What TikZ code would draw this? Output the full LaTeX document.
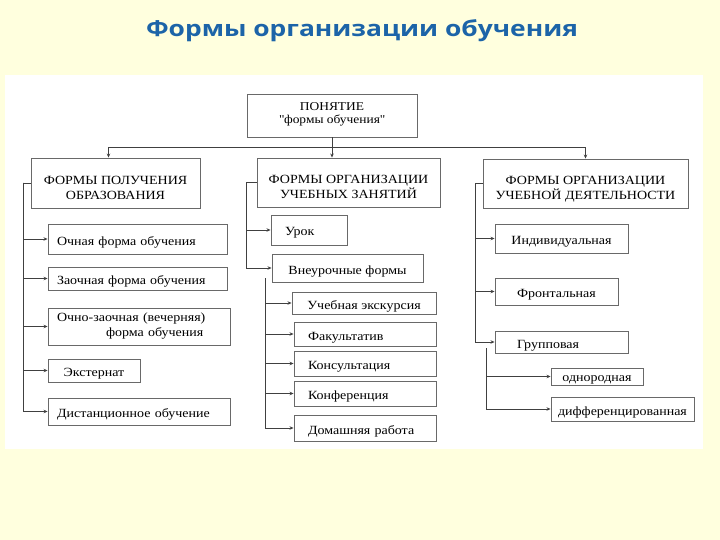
\documentclass[tikz,border=0pt]{standalone}
\usepackage{fontspec}
\setmainfont{Liberation Serif}[FakeStretch=1.12]
\newfontfamily\titlefont{Open Sans}[FakeStretch=1.2]
\usetikzlibrary{positioning, arrows.meta, calc}

\definecolor{pageyellow}{RGB}{255,255,222}
\definecolor{titleblue}{RGB}{28,100,168}
\definecolor{boxline}{RGB}{105,105,105}

\tikzset{%
  box/.style={draw=boxline, fill=white, line width=0.9pt, inner sep=2pt,
    font=\fontsize{12.5}{15}\selectfont, align=center}, % every frame of the chart
  lbox/.style={box, align=left}, % text kept to the left of its frame
  one/.style={text height=12pt, text depth=0pt}, % one line of text, set a bit low
  two/.style={text height=33pt, text depth=0pt}, % two lines of a heading
  link/.style={draw=black!75, line width=0.7pt, -{Stealth[length=4pt,width=3.5pt]}},
  stem/.style={draw=black!75, line width=0.7pt}
}

\begin{document}
\begin{tikzpicture}[x=1pt, y=-1pt]
    \fill[pageyellow] (0,0) rectangle (720,540);
    \useasboundingbox (0,0) rectangle (720,540);
    \fill[white] (5,75) rectangle (703,449);
    \node[text=titleblue, font=\titlefont\bfseries\fontsize{22}{26}\selectfont] (title) at (362,31) {Формы организации обучения};

    % top level
    \node[box, minimum width=170pt, minimum height=43pt, font=\fontsize{12}{12.5}\selectfont, text depth=5pt] (concept) at (332,115.5) {ПОНЯТИЕ\\\textquotedbl формы обучения\textquotedbl};
    \node[box, two, minimum width=169pt, minimum height=50pt] (fpol) at (115.5,183) {ФОРМЫ ПОЛУЧЕНИЯ\\ОБРАЗОВАНИЯ};
    \node[box, two, minimum width=183pt, minimum height=49pt] (forg) at (348.5,182.5) {ФОРМЫ ОРГАНИЗАЦИИ\\УЧЕБНЫХ ЗАНЯТИЙ};
    \node[box, two, minimum width=205pt, minimum height=49pt] (fdeat) at (585.5,183.5) {ФОРМЫ ОРГАНИЗАЦИИ\\УЧЕБНОЙ ДЕЯТЕЛЬНОСТИ};

    % left column
    \node[lbox, one, inner xsep=9pt, text width=161pt, minimum height=30pt] (ochn) at (137.5,239) {Очная форма обучения};
    \node[lbox, one, inner xsep=9pt, text width=161pt, minimum height=23pt] (zaoch) at (137.5,278.5) {Заочная форма обучения};
    \node[lbox, inner xsep=9pt, text width=164pt, minimum height=37pt] (ochzaoch) at (139,326.5) {Очно-заочная (вечерняя)\\\hspace*{49pt}форма обучения};
    \node[box, one, minimum width=92pt, minimum height=23pt] (ekst) at (94,370.5) {Экстернат};
    \node[lbox, one, inner xsep=9pt, text width=164pt, minimum height=27pt] (dist) at (139,411.5) {Дистанционное обучение};

    % middle column
    \node[lbox, one, inner xsep=14pt, text width=48pt, minimum height=30pt] (urok) at (309,230) {Урок};
    \node[box, one, minimum width=151pt, minimum height=28pt] (vneur) at (347.5,268) {Внеурочные формы};
    \node[box, one, minimum width=144pt, minimum height=22pt] (ekskurs) at (364,303) {Учебная экскурсия};
    \node[lbox, one, inner xsep=14pt, text width=114pt, minimum height=24pt] (fakult) at (365,334) {Факультатив};
    \node[lbox, one, inner xsep=14pt, text width=114pt, minimum height=25pt] (konsult) at (365,363.5) {Консультация};
    \node[lbox, one, inner xsep=14pt, text width=114pt, minimum height=25pt] (konfer) at (365,393.5) {Конференция};
    \node[lbox, one, inner xsep=14pt, text width=114pt, minimum height=26pt] (domash) at (365,428) {Домашняя работа};

    % right column
    \node[box, one, minimum width=133pt, minimum height=29pt] (indiv) at (561.5,238.5) {Индивидуальная};
    \node[box, one, minimum width=123pt, minimum height=27pt] (front) at (556.5,291.5) {Фронтальная};
    \node[lbox, one, inner xsep=22pt, text width=89pt, minimum height=22pt] (grupp) at (561.5,342) {Групповая};
    \node[box, one, minimum width=92pt, minimum height=17pt, inner ysep=1pt, text height=10pt] (odnor) at (597,376.5) {однородная};
    \node[box, one, minimum width=143pt, minimum height=24pt] (differ) at (622.5,409) {дифференцированная};

    % where the lines branch
    \coordinate (hub) at ($(concept.south)+(0,10)$);
    \coordinate (lspine) at ($(fpol.west)+(-7,0)$);
    \coordinate (mspine) at ($(forg.west)+(-10,0)$);
    \coordinate (vspine) at ($(vneur.south west)+(-6,-4)$);
    \coordinate (rspine) at ($(fdeat.west)+(-7,0)$);
    \coordinate (gspine) at ($(grupp.south west)+(-8,-5)$);

    \draw[link] (concept.south) -- (concept.south |- forg.north);
    \draw[link] (hub) -| ([xshift=-7pt]fpol.north);
    \draw[link] (hub) -| (fdeat.north);

    \draw[stem] (fpol.west) -- (lspine);
    \draw[link] (lspine) |- (ochn.west);
    \draw[link] (lspine) |- (zaoch.west);
    \draw[link] (lspine) |- (ochzaoch.west);
    \draw[link] (lspine) |- (ekst.west);
    \draw[link] (lspine) |- (dist.west);

    \draw[stem] (forg.west) -- (mspine);
    \draw[link] (mspine) |- (urok.west);
    \draw[link] (mspine) |- (vneur.west);
    \draw[link] (vspine) |- (ekskurs.west);
    \draw[link] (vspine) |- (fakult.west);
    \draw[link] (vspine) |- (konsult.west);
    \draw[link] (vspine) |- (konfer.west);
    \draw[link] (vspine) |- (domash.west);

    \draw[stem] (fdeat.west) -- (rspine);
    \draw[link] (rspine) |- (indiv.west);
    \draw[link] (rspine) |- (front.west);
    \draw[link] (rspine) |- (grupp.west);
    \draw[link] (gspine) |- (odnor.west);
    \draw[link] (gspine) |- (differ.west);
\end{tikzpicture}
\end{document}
